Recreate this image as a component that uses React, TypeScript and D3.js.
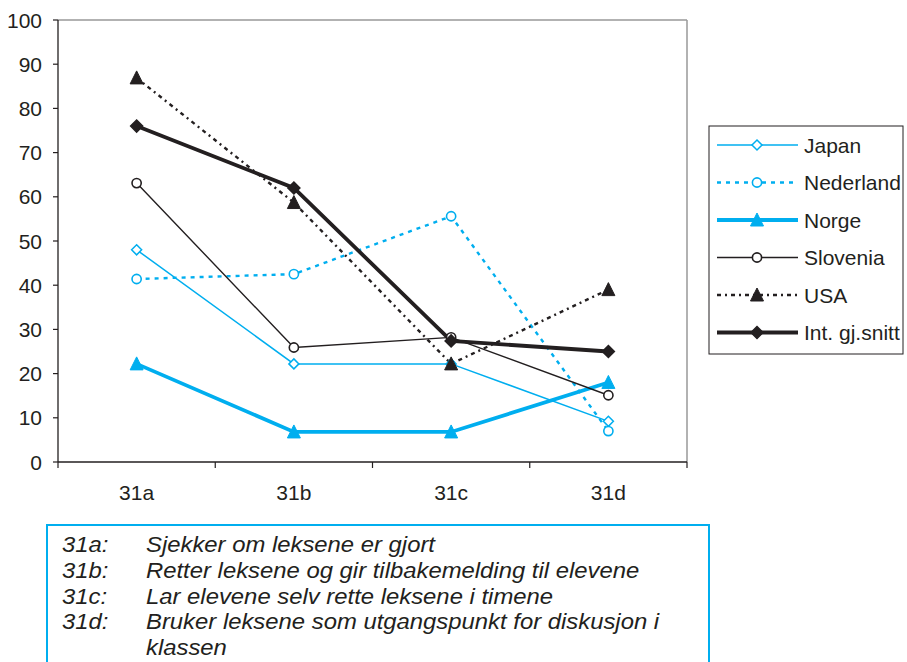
import React from "react";
import * as d3 from "d3";

const categories = ["31a", "31b", "31c", "31d"];
const yTicks = [0, 10, 20, 30, 40, 50, 60, 70, 80, 90, 100];
const seriesNames = ["Japan", "Nederland", "Norge", "Slovenia", "USA", "Int. gj.snitt"];
const japan = [48, 22.2, 22.2, 9.2];
const nederland = [41.4, 42.5, 55.6, 7];
const norge = [22.2, 6.8, 6.8, 18];
const slovenia = [63.1, 25.9, 28.2, 15.1];
const usa = [86.9, 58.7, 22.2, 39];
const intSnitt = [76, 62, 27.4, 25];
const notesCodes = ["31a:", "31b:", "31c:", "31d:", ""];
const notesTexts = [
  "Sjekker om leksene er gjort",
  "Retter leksene og gir tilbakemelding til elevene",
  "Lar elevene selv rette leksene i timene",
  "Bruker leksene som utgangspunkt for diskusjon i",
  "klassen",
];

const BLUE = "#00aeef";
const BLACK = "#231f20";

type Style = { color: string; width: number; dash?: string; marker: string; fill: string };
const styles: Style[] = [
  { color: BLUE, width: 1.5, marker: "diamond", fill: "white" },
  { color: BLUE, width: 2.4, dash: "4,5", marker: "circle", fill: "white" },
  { color: BLUE, width: 3.8, marker: "triangle", fill: BLUE },
  { color: BLACK, width: 1.4, marker: "circle", fill: "white" },
  { color: BLACK, width: 2.4, dash: "4,4,2,4", marker: "triangle", fill: BLACK },
  { color: BLACK, width: 3.8, marker: "diamond", fill: BLACK },
];
const allData = [japan, nederland, norge, slovenia, usa, intSnitt];

function Marker({ type, x, y, color, fill }: { type: string; x: number; y: number; color: string; fill: string }) {
  if (type === "diamond") {
    const s = fill === "white" ? 5 : 6;
    return (
      <path d={`M${x},${y - s}L${x + s},${y}L${x},${y + s}L${x - s},${y}Z`} fill={fill} stroke={color} strokeWidth={1.5} />
    );
  }
  if (type === "circle") {
    return <circle cx={x} cy={y} r={4.6} fill={fill} stroke={color} strokeWidth={1.6} />;
  }
  const s = 7;
  return (
    <path d={`M${x},${y - s}L${x + 6.5},${y + 6}L${x - 6.5},${y + 6}Z`} fill={fill} stroke={color} strokeWidth={1} />
  );
}

export default function App() {
  const W = 907, H = 662;
  const left = 58, right = 687, top = 20, bottom = 462;
  const x = d3.scaleBand().domain(categories).range([left, right]);
  const y = d3.scaleLinear().domain([0, 100]).range([bottom, top]);
  const line = d3
    .line<number>()
    .x((_, i) => (x(categories[i]) as number) + x.bandwidth() / 2)
    .y((d) => y(d));
  const font = "Liberation Sans, Arial, sans-serif";
  return (
    <svg width={W} height={H} style={{ position: "absolute", left: 0, top: 0, background: "white" }} fontFamily={font}>
      <rect x={0} y={0} width={W} height={H} fill="white" />
      {/* plot frame */}
      <line x1={left} y1={top} x2={right} y2={top} stroke="#999" strokeWidth={1.5} />
      <line x1={right} y1={top} x2={right} y2={bottom} stroke="#999" strokeWidth={1.5} />
      <line x1={left} y1={top} x2={left} y2={bottom} stroke={BLACK} strokeWidth={1.3} />
      <line x1={left} y1={bottom} x2={right} y2={bottom} stroke={BLACK} strokeWidth={1.3} />
      {yTicks.map((t) => (
        <g key={t}>
          <line x1={left - 5} x2={left} y1={y(t)} y2={y(t)} stroke={BLACK} strokeWidth={1.2} />
          <text x={42} y={y(t)} dy="0.36em" textAnchor="end" fontSize={21} fill={BLACK}>
            {t}
          </text>
        </g>
      ))}
      {categories.map((c, i) => (
        <g key={c}>
          <line x1={x(c) as number} x2={x(c) as number} y1={bottom} y2={bottom + 6} stroke={BLACK} strokeWidth={1.2} />
          {i === categories.length - 1 && (
            <line x1={right} x2={right} y1={bottom} y2={bottom + 6} stroke={BLACK} strokeWidth={1.2} />
          )}
          <text x={(x(c) as number) + x.bandwidth() / 2} y={500} textAnchor="middle" fontSize={21} fill={BLACK}>
            {c}
          </text>
        </g>
      ))}
      {allData.map((d, si) => (
        <path
          key={"l" + si}
          d={line(d) as string}
          fill="none"
          stroke={styles[si].color}
          strokeWidth={styles[si].width}
          strokeDasharray={styles[si].dash}
        />
      ))}
      {allData.map((d, si) =>
        d.map((v, i) => (
          <Marker
            key={si + "-" + i}
            type={styles[si].marker}
            x={(x(categories[i]) as number) + x.bandwidth() / 2}
            y={y(v)}
            color={styles[si].color}
            fill={styles[si].fill}
          />
        ))
      )}
      {/* legend */}
      <rect x={709} y={126} width={194} height={228} fill="white" stroke={BLACK} strokeWidth={1} />
      {seriesNames.map((n, i) => {
        const ly = 145 + i * 37.5;
        const st = styles[i];
        return (
          <g key={n}>
            <line x1={717} x2={798} y1={ly} y2={ly} stroke={st.color} strokeWidth={st.width} strokeDasharray={st.dash} />
            <Marker type={st.marker} x={757} y={ly} color={st.color} fill={st.fill} />
            <text x={804} y={ly} dy="0.36em" fontSize={21} fill={BLACK}>
              {n}
            </text>
          </g>
        );
      })}
      {/* notes box */}
      <path d={`M47,${H + 2}L47,525L709,525L709,${H + 2}`} fill="none" stroke={BLUE} strokeWidth={2} />
      {notesTexts.map((t, i) => {
        const ty = 552 + i * 25.8;
        return (
          <g key={i} fontStyle="italic" fontSize={22} fill={BLACK}>
            <text x={62} y={ty} transform={`translate(62,0) scale(1.085,1) translate(-62,0)`}>
              {notesCodes[i]}
            </text>
            <text x={146} y={ty} transform={`translate(146,0) scale(1.085,1) translate(-146,0)`}>
              {t}
            </text>
          </g>
        );
      })}
    </svg>
  );
}
